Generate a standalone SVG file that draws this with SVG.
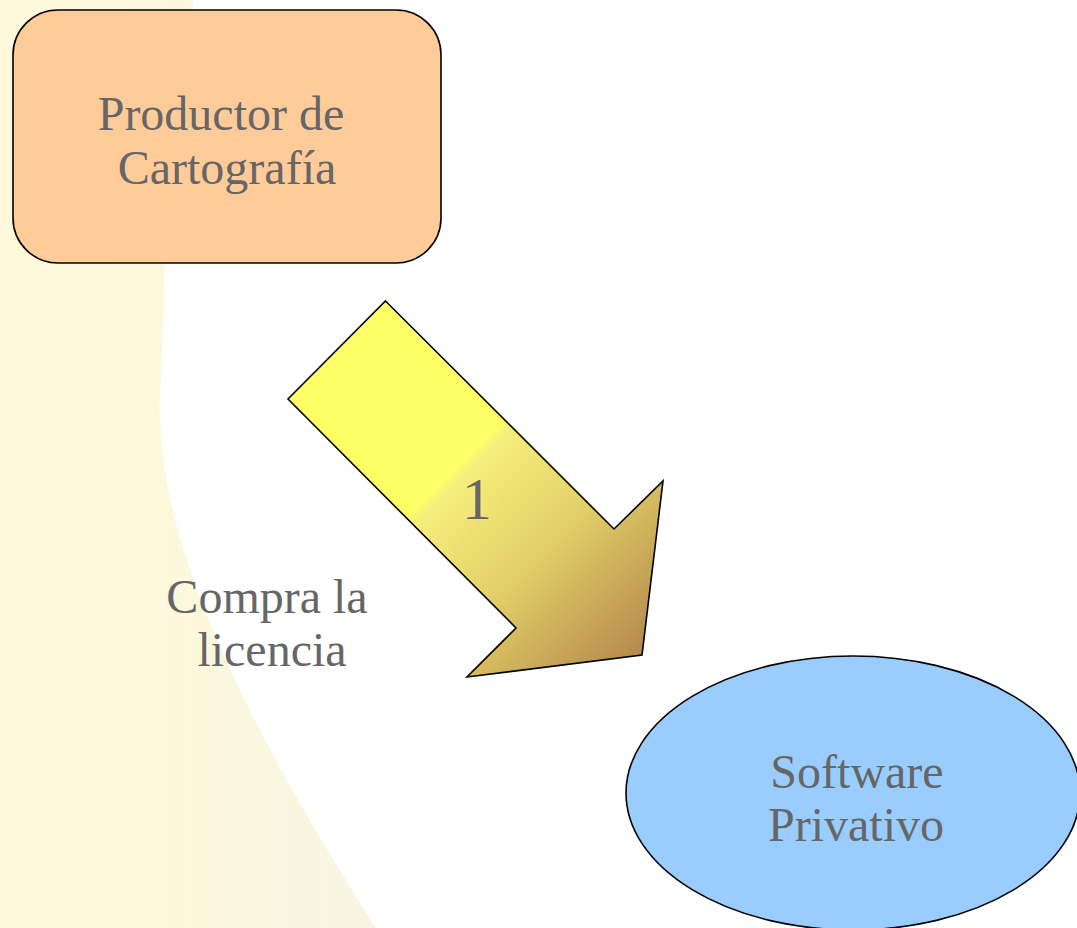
<svg xmlns="http://www.w3.org/2000/svg" width="1077" height="928" viewBox="0 0 1077 928">
<defs>
<linearGradient id="bg" gradientUnits="userSpaceOnUse" x1="0" y1="0" x2="380" y2="0">
<stop offset="0" stop-color="#FEF8DA"/>
<stop offset="0.4" stop-color="#FDF8DC"/>
<stop offset="1" stop-color="#F7F5E2"/>
</linearGradient>
<linearGradient id="arrowGrad" gradientUnits="userSpaceOnUse" x1="462" y1="462" x2="650" y2="650">
<stop offset="0" stop-color="#FFFF66"/>
<stop offset="0.03" stop-color="#F7F07C"/>
<stop offset="0.45" stop-color="#E2CE68"/>
<stop offset="1" stop-color="#B4884C"/>
</linearGradient>
<style>
.lbl{font-family:"Liberation Serif","Times New Roman",serif;font-size:48px;fill:#666666;text-anchor:middle}
.shape{stroke:#000000;stroke-width:1.6}
</style>
</defs>
<rect width="1077" height="928" fill="#FFFFFF"/>
<path d="M0,0 H193 L165,264 L161,375 C148,520 230,700 376,928 H0 Z" fill="url(#bg)"/>
<g id="connectors">
<g id="arrow1">
<polygon class="shape" points="385.5,301 614,529 663,481 642,655 467,677 516,628 288,399" fill="url(#arrowGrad)"/>
<text class="lbl" x="477" y="519" style="font-size:60px">1</text>
</g>
<text class="lbl" x="267" y="613">Compra la</text>
<text class="lbl" x="272" y="666">licencia</text>
</g>
<g id="productor">
<rect class="shape" x="13" y="10" width="428" height="253" rx="45" ry="45" fill="#FFCC99"/>
<text class="lbl" x="221" y="130">Productor de</text>
<text class="lbl" x="227" y="184">Cartografía</text>
</g>
<g id="software">
<ellipse class="shape" cx="853" cy="793" rx="227" ry="137" fill="#99CCFF"/>
<text class="lbl" x="857" y="788">Software</text>
<text class="lbl" x="856" y="841">Privativo</text>
</g>
</svg>
